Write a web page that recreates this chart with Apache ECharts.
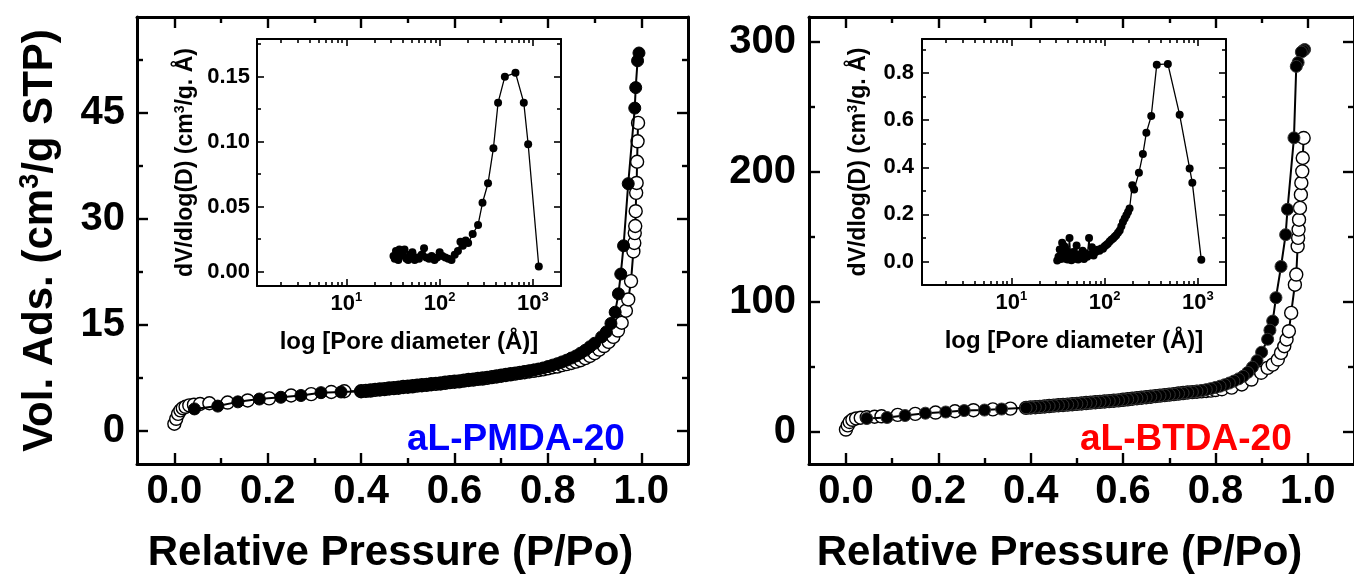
<!DOCTYPE html>
<html>
<head>
<meta charset="utf-8">
<script src="https://cdn.jsdelivr.net/npm/echarts@6/dist/echarts.min.js"></script>
<style>
html, body { margin: 0; padding: 0; background: #fff; }
#chart { width: 1354px; height: 579px; }
</style>
</head>
<body>
<div id="chart"></div>
<script>
const FONT = "'Liberation Sans', Arial, Helvetica, sans-serif";

// ---- aL-PMDA-20 isotherm (relative pressure, cm3/g STP) ----
const pmdaAdsP = [0.000, 0.004, 0.008, 0.013, 0.018, 0.024, 0.032, 0.042, 0.055, 0.075, 0.114, 0.157, 0.203, 0.250, 0.293, 0.336, 0.364,
  0.40, 0.41, 0.42, 0.43, 0.44, 0.45, 0.46, 0.47, 0.48, 0.49, 0.50, 0.51, 0.52, 0.53, 0.54, 0.55, 0.56, 0.57, 0.58, 0.59,
  0.60, 0.61, 0.62, 0.63, 0.64, 0.65, 0.66, 0.67, 0.68, 0.69, 0.70, 0.71, 0.72, 0.73, 0.74, 0.75, 0.76, 0.77, 0.78, 0.79,
  0.80, 0.81, 0.82, 0.83, 0.84, 0.85, 0.86, 0.87, 0.88, 0.89, 0.90, 0.91, 0.92, 0.93, 0.94, 0.95, 0.958, 0.967, 0.972, 0.978,
  0.983, 0.985, 0.986, 0.987, 0.988, 0.989, 0.990, 0.991, 0.992, 0.993];
const pmdaAdsV = [1.0, 1.7, 2.4, 2.9, 3.2, 3.4, 3.6, 3.7, 3.8, 3.9, 4.0, 4.3, 4.6, 5.0, 5.2, 5.5, 5.6,
  5.6, 5.65, 5.7, 5.8, 5.85, 5.9, 6.0, 6.05, 6.1, 6.2, 6.25, 6.3, 6.4, 6.45, 6.5, 6.6, 6.65, 6.7, 6.8, 6.9,
  6.95, 7.0, 7.1, 7.2, 7.25, 7.35, 7.4, 7.5, 7.6, 7.7, 7.8, 7.9, 8.0, 8.1, 8.2, 8.3, 8.4, 8.5, 8.6, 8.7,
  8.85, 9.0, 9.1, 9.3, 9.45, 9.6, 9.8, 10.0, 10.3, 10.6, 11.0, 11.5, 12.0, 12.6, 13.3, 14.2, 15.3, 17.0, 18.6, 21.2,
  25.4, 26.6, 28.0, 29.0, 31.1, 33.7, 35.1, 38.1, 41.0, 43.6];
const pmdaDesP = [0.995, 0.992, 0.988, 0.986, 0.972, 0.962, 0.956, 0.951, 0.944, 0.935, 0.925, 0.915,
  0.90, 0.89, 0.88, 0.87, 0.86, 0.85, 0.84, 0.83, 0.82, 0.81, 0.80, 0.79, 0.78, 0.77, 0.76, 0.75, 0.74, 0.73, 0.72, 0.71,
  0.70, 0.69, 0.68, 0.67, 0.66, 0.65, 0.64, 0.63, 0.62, 0.61, 0.60, 0.59, 0.58, 0.57, 0.56, 0.55, 0.54, 0.53, 0.52, 0.51,
  0.50, 0.49, 0.48, 0.47, 0.46, 0.45, 0.44, 0.43, 0.42, 0.41, 0.40,
  0.357, 0.314, 0.271, 0.228, 0.182, 0.136, 0.093, 0.043];
const pmdaDesV = [53.5, 52.4, 48.6, 45.7, 35.0, 26.2, 22.2, 19.4, 16.8, 15.2, 14.0, 13.3,
  12.4, 11.9, 11.4, 11.0, 10.6, 10.3, 10.0, 9.75, 9.5, 9.3, 9.1, 8.9, 8.75, 8.6, 8.45, 8.35, 8.2, 8.1, 8.0, 7.9,
  7.8, 7.7, 7.6, 7.5, 7.4, 7.35, 7.25, 7.2, 7.1, 7.0, 6.95, 6.9, 6.8, 6.7, 6.65, 6.6, 6.5, 6.45, 6.4, 6.3,
  6.25, 6.2, 6.1, 6.05, 6.0, 5.9, 5.85, 5.8, 5.7, 5.65, 5.6,
  5.5, 5.4, 5.0, 4.75, 4.5, 4.1, 3.5, 3.1];

// ---- aL-BTDA-20 isotherm ----
const btdaAdsP = [0.000, 0.004, 0.008, 0.014, 0.022, 0.032, 0.045, 0.062, 0.077, 0.112, 0.150, 0.194, 0.236, 0.276, 0.318, 0.356,
  0.39, 0.40, 0.41, 0.42, 0.43, 0.44, 0.45, 0.46, 0.47, 0.48, 0.49, 0.50, 0.51, 0.52, 0.53, 0.54, 0.55, 0.56, 0.57, 0.58, 0.59,
  0.60, 0.61, 0.62, 0.63, 0.64, 0.65, 0.66, 0.67, 0.68, 0.69, 0.70, 0.71, 0.72, 0.73, 0.74, 0.75, 0.76, 0.77, 0.78, 0.79, 0.80,
  0.814, 0.835, 0.857, 0.878, 0.899, 0.913, 0.924, 0.935, 0.942, 0.949, 0.954, 0.959, 0.964, 0.972, 0.975, 0.978, 0.979,
  0.980, 0.981, 0.983, 0.985, 0.986, 0.988, 0.989, 0.991];
const btdaAdsV = [1.5, 4.7, 7.3, 9.0, 10.0, 10.6, 11.0, 11.4, 11.7, 12.8, 13.6, 14.6, 15.6, 16.4, 17.0, 17.6,
  18.2, 18.5, 18.7, 19.0, 19.3, 19.6, 19.9, 20.2, 20.4, 20.7, 21.0, 21.3, 21.6, 21.9, 22.2, 22.5, 22.8, 23.1, 23.4, 23.7, 24.0,
  24.4, 24.8, 25.2, 25.6, 26.0, 26.4, 26.8, 27.2, 27.6, 28.0, 28.4, 28.8, 29.2, 29.6, 30.0, 30.3, 30.6, 30.9, 31.2, 31.5, 31.9,
  32.5, 33.8, 36.2, 40.0, 45.2, 49.0, 51.5, 55.4, 60.5, 65.6, 70.8, 77.2, 91.3, 113.0, 120.8, 142.5, 149.0,
  155.4, 163.0, 172.1, 182.3, 191.3, 200.2, 210.5, 225.9];
const btdaDesP = [0.993, 0.990, 0.986, 0.979, 0.975, 0.970, 0.956, 0.952, 0.942, 0.931, 0.924, 0.918, 0.913,
  0.90, 0.89, 0.88, 0.87, 0.86, 0.85, 0.84, 0.83, 0.82, 0.81, 0.80, 0.79, 0.78, 0.77, 0.76, 0.75,
  0.74, 0.73, 0.72, 0.71, 0.70, 0.69, 0.68, 0.67, 0.66, 0.65, 0.64, 0.63, 0.62, 0.61, 0.60, 0.59, 0.58, 0.57, 0.56, 0.55,
  0.54, 0.53, 0.52, 0.51, 0.50, 0.49, 0.48, 0.47, 0.46, 0.45, 0.44, 0.43, 0.42, 0.41, 0.40, 0.39,
  0.337, 0.300, 0.256, 0.216, 0.172, 0.128, 0.089, 0.045];
const btdaDesV = [294, 293, 292, 284, 281, 226, 171, 151.5, 127, 103, 85, 78, 71,
  61, 54.5, 49.5, 45.5, 42.5, 40.5, 38.8, 37.3, 36.0, 34.9, 33.9, 33.0, 32.2, 31.5, 30.9, 30.4,
  30.0, 29.6, 29.2, 28.8, 28.4, 28.0, 27.6, 27.2, 26.8, 26.4, 26.0, 25.6, 25.2, 24.8, 24.4, 24.0, 23.7, 23.4, 23.1, 22.8,
  22.5, 22.2, 21.9, 21.6, 21.3, 21.0, 20.7, 20.4, 20.2, 19.9, 19.6, 19.3, 19.0, 18.7, 18.5, 18.2,
  17.3, 16.5, 16.1, 15.0, 14.1, 12.3, 10.8, 10.0];

// ---- pore size distributions (diameter in Å, dV/dlog(D)) ----
const pmdaPsdD = [32, 33, 34, 35, 36, 37, 38, 40, 42, 44, 46, 48, 51, 54, 57, 60, 64, 68, 72, 77, 82, 88, 94, 100,
  107, 115, 124, 134, 145, 157, 167, 177, 190, 202, 226, 258, 288, 330, 377, 423, 500, 650, 798, 889, 1156];
const pmdaPsdV = [0.012, 0.010, 0.016, 0.011, 0.009, 0.017, 0.012, 0.014, 0.017, 0.010, 0.009, 0.013, 0.015, 0.009,
  0.011, 0.010, 0.013, 0.018, 0.011, 0.010, 0.012, 0.009, 0.011, 0.015, 0.012, 0.011, 0.010, 0.009, 0.013, 0.016,
  0.023, 0.020, 0.024, 0.022, 0.029, 0.036, 0.053, 0.068, 0.095, 0.130, 0.150, 0.153, 0.130, 0.098, 0.004];
const btdaPsdD = [31, 32, 33, 34, 35, 36, 37, 38, 39, 40, 42, 43, 44, 46, 48, 50, 52, 54, 56, 58, 60, 62, 65, 68, 70,
  73, 76, 80, 84, 88, 92, 96, 100, 104, 108, 113, 118, 123, 128, 133, 139, 145, 151, 157, 164, 171, 178, 185,
  198, 207, 233, 257, 280, 316, 362, 476, 637, 815, 871, 1087];
const btdaPsdV = [0.004, 0.020, 0.051, 0.010, 0.080, 0.030, 0.065, 0.012, 0.045, 0.008, 0.100, 0.025, 0.005, 0.040,
  0.012, 0.068, 0.008, 0.030, 0.015, 0.045, 0.010, 0.035, 0.020, 0.100, 0.030, 0.060, 0.025, 0.040, 0.050, 0.045,
  0.055, 0.054, 0.065, 0.070, 0.075, 0.085, 0.092, 0.097, 0.105, 0.111, 0.122, 0.132, 0.150, 0.168, 0.183, 0.196,
  0.210, 0.225, 0.324, 0.306, 0.377, 0.456, 0.547, 0.618, 0.836, 0.839, 0.623, 0.395, 0.334, 0.007];

// ---- tick positions ----
const pressureTicks = [0, 0.2, 0.4, 0.6, 0.8, 1.0];
const pressureMinor = [0.1, 0.3, 0.5, 0.7, 0.9];
const pmdaVolTicks = [0, 15, 30, 45];
const pmdaVolMinor = [7.5, 22.5, 37.5, 52.5];
const btdaVolTicks = [0, 100, 200, 300];
const btdaVolMinor = [50, 150, 250];
const diamTicks = [10, 100, 1000];
const diamMinor = [2, 3, 4, 5, 6, 7, 8, 9, 20, 30, 40, 50, 60, 70, 80, 90, 200, 300, 400, 500, 600, 700, 800, 900];
const pmdaPsdTicks = [0, 0.05, 0.10, 0.15];
const pmdaPsdMinor = [0.025, 0.075, 0.125, 0.175];
const btdaPsdTicks = [0, 0.2, 0.4, 0.6, 0.8];
const btdaPsdMinor = [0.1, 0.3, 0.5, 0.7, 0.9];

const zip = (xs, ys) => xs.map((x, i) => [x, ys[i]]);

// Four axes per dimension: main side (major + minor ticks) and mirrored side (major + minor ticks)
function frameAxes(dim, gridIndex, type, min, max, major, minor, lw, majLen, minLen, label, nameCfg, z) {
  const sides = dim === 'x' ? ['bottom', 'top'] : ['left', 'right'];
  const axes = [];
  sides.forEach((pos, si) => {
    axes.push(Object.assign({
      type: type, logBase: 10, gridIndex: gridIndex, position: pos, min: min, max: max, z: z,
      axisLine: { show: true, onZero: false, lineStyle: { color: '#000', width: lw } },
      axisTick: { show: true, inside: true, length: majLen, customValues: major, lineStyle: { color: '#000', width: lw * 0.8 } },
      axisLabel: si === 0 ? label : { show: false },
      splitLine: { show: false },
      axisPointer: { show: false }
    }, si === 0 ? nameCfg : {}));
    axes.push({
      type: type, logBase: 10, gridIndex: gridIndex, position: pos, min: min, max: max, z: z,
      axisLine: { show: false, onZero: false },
      axisTick: { show: true, inside: true, length: minLen, customValues: minor, lineStyle: { color: '#000', width: lw * 0.8 } },
      axisLabel: { show: false },
      splitLine: { show: false },
      axisPointer: { show: false }
    });
  });
  return axes;
}

const mainTick = (vals, fmt, margin) => ({
  show: true, customValues: vals, formatter: fmt, margin: margin,
  color: '#000', fontFamily: FONT, fontWeight: 'bold', fontSize: 40
});
const insetTick = (vals, fmt, margin) => ({
  show: true, customValues: vals, formatter: fmt, margin: margin,
  color: '#000', fontFamily: FONT, fontWeight: 'bold', fontSize: 22
});
const logLabel = {
  show: true, customValues: diamTicks, margin: 5,
  formatter: v => '{b|10}{s|' + Math.round(Math.log10(v)) + '}',
  rich: {
    b: { fontFamily: FONT, fontWeight: 'bold', fontSize: 22, color: '#000', lineHeight: 25 },
    s: { fontFamily: FONT, fontWeight: 'bold', fontSize: 13, color: '#000', verticalAlign: 'top', lineHeight: 14 }
  }
};

const pressureName = {
  name: 'Relative Pressure (P/Po)', nameLocation: 'middle', nameGap: 68,
  nameTextStyle: { fontFamily: FONT, fontWeight: 'bold', fontSize: 42, color: '#000', padding: [0, 44, 0, 0] }
};
const volName = {
  name: '{n|Vol. Ads. (cm}{s|3}{n|/g STP)}', nameLocation: 'middle', nameGap: 74, nameRotate: 90,
  nameTextStyle: {
    rich: {
      n: { fontFamily: FONT, fontWeight: 'bold', fontSize: 42, color: '#000', lineHeight: 46 },
      s: { fontFamily: FONT, fontWeight: 'bold', fontSize: 27, color: '#000', verticalAlign: 'top', lineHeight: 28 }
    }
  }
};
const diamName = {
  name: 'log [Pore diameter (Å)]', nameLocation: 'middle', nameGap: 44,
  nameTextStyle: { fontFamily: FONT, fontWeight: 'bold', fontSize: 24, color: '#000' }
};
const psdName = gap => ({
  name: '{n|dV/dlog(D) (cm}{s|3}{n|/g. Å)}', nameLocation: 'middle', nameGap: gap, nameRotate: 90,
  nameTextStyle: {
    rich: {
      n: { fontFamily: FONT, fontWeight: 'bold', fontSize: 23, color: '#000', lineHeight: 26 },
      s: { fontFamily: FONT, fontWeight: 'bold', fontSize: 14, color: '#000', verticalAlign: 'top', lineHeight: 15 }
    }
  }
});

const xAxes = [].concat(
  frameAxes('x', 0, 'value', -0.08, 1.1, pressureTicks, pressureMinor, 3, 11, 6, mainTick(pressureTicks, v => v.toFixed(1), 8), pressureName, 1),
  frameAxes('x', 1, 'value', -0.08, 1.1, pressureTicks, pressureMinor, 3, 11, 6, mainTick(pressureTicks, v => v.toFixed(1), 8), pressureName, 1),
  frameAxes('x', 2, 'log', 1.1, 2000, diamTicks, diamMinor, 2, 7, 4, logLabel, diamName, 8),
  frameAxes('x', 3, 'log', 1.1, 2000, diamTicks, diamMinor, 2, 7, 4, logLabel, diamName, 8)
);
const yAxes = [].concat(
  frameAxes('y', 0, 'value', -4.7, 58.6, pmdaVolTicks, pmdaVolMinor, 3, 11, 6, mainTick(pmdaVolTicks, v => String(v), 12), volName, 1),
  frameAxes('y', 1, 'value', -25, 319, btdaVolTicks, btdaVolMinor, 3, 11, 6, mainTick(btdaVolTicks, v => String(v), 13), {}, 1),
  frameAxes('y', 2, 'value', -0.011, 0.179, pmdaPsdTicks, pmdaPsdMinor, 2, 7, 4, insetTick(pmdaPsdTicks, v => v.toFixed(2), 7), psdName(58), 8),
  frameAxes('y', 3, 'value', -0.1, 0.945, btdaPsdTicks, btdaPsdMinor, 2, 7, 4, insetTick(btdaPsdTicks, v => v.toFixed(1), 8), psdName(50), 8)
);

const openSeries = (g, data) => ({
  type: 'line', xAxisIndex: g * 4, yAxisIndex: g * 4, data: data, z: 3,
  symbol: 'circle', symbolSize: 13, showAllSymbol: true,
  itemStyle: { color: '#fff', borderColor: '#000', borderWidth: 1.4 },
  lineStyle: { color: '#000', width: 2 }
});
const filledSeries = (g, data, ring) => ({
  type: 'line', xAxisIndex: g * 4, yAxisIndex: g * 4, data: data, z: 4,
  symbol: 'circle', symbolSize: 12, showAllSymbol: true,
  itemStyle: { color: '#000', borderColor: ring, borderWidth: 1 },
  lineStyle: { color: '#000', width: 2 }
});
const psdSeries = (g, data) => ({
  type: 'line', xAxisIndex: g * 4, yAxisIndex: g * 4, data: data, z: 7,
  symbol: 'circle', symbolSize: 8, showAllSymbol: true,
  itemStyle: { color: '#000' },
  lineStyle: { color: '#000', width: 1.3 }
});

const option = {
  animation: false,
  backgroundColor: '#fff',
  grid: [
    { left: 137, top: 17, width: 551, height: 448 },
    { left: 809, top: 17, width: 550, height: 448 },
    { left: 257, top: 39, width: 304, height: 247, show: true, backgroundColor: '#fff', borderWidth: 0, z: 5 },
    { left: 922, top: 39, width: 304, height: 246, show: true, backgroundColor: '#fff', borderWidth: 0, z: 5 }
  ],
  xAxis: xAxes,
  yAxis: yAxes,
  graphic: [
    { type: 'text', left: 407, top: 421, z: 10,
      style: { text: 'aL-PMDA-20', fill: '#0000ff', fontFamily: FONT, fontWeight: 'bold', fontSize: 37 } },
    { type: 'text', left: 1080, top: 421, z: 10,
      style: { text: 'aL-BTDA-20', fill: '#ff0000', fontFamily: FONT, fontWeight: 'bold', fontSize: 37 } }
  ],
  series: [
    openSeries(0, zip(pmdaAdsP, pmdaAdsV)),
    filledSeries(0, zip(pmdaDesP, pmdaDesV), '#000'),
    openSeries(1, zip(btdaAdsP, btdaAdsV)),
    filledSeries(1, zip(btdaDesP, btdaDesV), '#333'),
    psdSeries(2, zip(pmdaPsdD, pmdaPsdV)),
    psdSeries(3, zip(btdaPsdD, btdaPsdV))
  ]
};

const chart = echarts.init(document.getElementById('chart'), null, { renderer: 'canvas' });
chart.setOption(option);
</script>
</body>
</html>
